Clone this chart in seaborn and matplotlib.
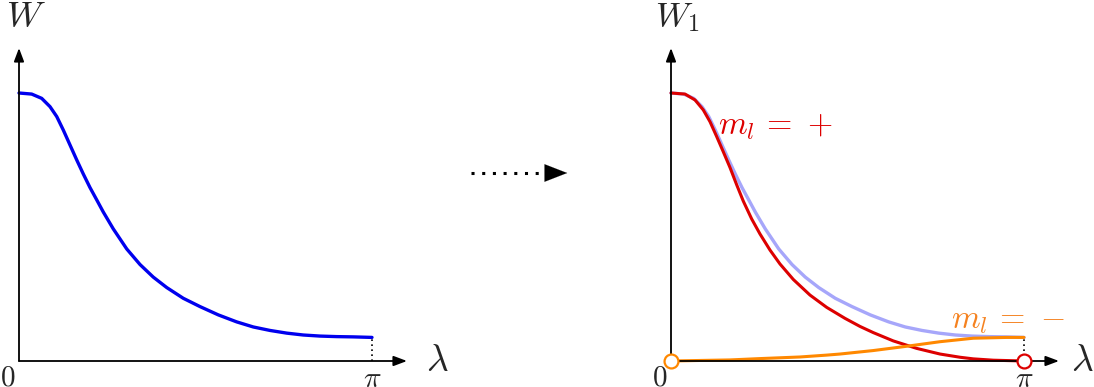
import numpy as np
import matplotlib
matplotlib.use("Agg")
import matplotlib.pyplot as plt
from matplotlib.patches import FancyArrowPatch
import seaborn as sns

sns.set_style("white")
plt.rcParams["mathtext.fontset"] = "cm"

# values (lambda in radians, W normalised so W(0)=1)
lam_w = [0.0, 0.113, 0.202, 0.276, 0.336, 0.394, 0.454, 0.514, 0.572, 0.632,
         0.692, 0.750, 0.839, 0.959, 1.077, 1.195, 1.315, 1.462, 1.611, 1.774,
         1.937, 2.085, 2.234, 2.383, 2.530, 2.679, 2.827, 2.975, 3.1416]
w_vals = [1.0, 0.996, 0.980, 0.949, 0.912, 0.862, 0.806, 0.750, 0.698, 0.647,
          0.601, 0.556, 0.493, 0.418, 0.360, 0.313, 0.274, 0.234, 0.203, 0.172,
          0.146, 0.127, 0.114, 0.104, 0.097, 0.093, 0.091, 0.090, 0.088]

lam_plus = [0.0, 0.125, 0.214, 0.287, 0.347, 0.407, 0.465, 0.525, 0.585, 0.643,
            0.718, 0.792, 0.881, 0.970, 1.089, 1.237, 1.386, 1.549, 1.682, 1.800,
            1.978, 2.187, 2.394, 2.572, 2.690, 2.868, 3.1416]
w_plus = [1.0, 0.996, 0.974, 0.937, 0.893, 0.837, 0.781, 0.722, 0.657, 0.597,
          0.530, 0.474, 0.414, 0.362, 0.304, 0.246, 0.200, 0.159, 0.129, 0.106,
          0.075, 0.047, 0.026, 0.014, 0.008, 0.003, 0.0]

lam_minus = [0.0, 0.258, 0.525, 0.792, 1.148, 1.386, 1.504, 1.800, 2.098, 2.394,
             2.690, 2.988, 3.1416]
w_minus = [0.0, 0.002, 0.004, 0.009, 0.015, 0.022, 0.026, 0.039, 0.055, 0.072,
           0.085, 0.088, 0.088]

FW, FH = 1094, 387
sx = 353 / np.pi   # px per radian
sy = 268.0         # px per unit W

fig = plt.figure(figsize=(FW / 100, FH / 100), dpi=100)


def make_ax(ox, lam_off):
    ax = fig.add_axes([(ox - 20) / FW, 0, 440 / FW, 1])
    ax.set_xlim(-20 / sx, 420 / sx)
    ax.set_ylim(-26 / sy, 361 / sy)
    ax.axis("off")
    arr = dict(arrowstyle="-|>,head_length=0.8,head_width=0.3", color="black",
               lw=1.3, shrinkA=0, shrinkB=0)
    ax.annotate("", xy=(388 / sx, 0), xytext=(0, 0), arrowprops=arr)
    ax.annotate("", xy=(0, 313 / sy), xytext=(0, 0), arrowprops=arr)
    ax.text(-11 / sx, -17 / sy, "$0$", fontsize=21, ha="center", va="center")
    ax.text(np.pi, -18 / sy, r"$\pi$", fontsize=21, ha="center", va="center")
    ax.text(lam_off / sx, 0, r"$\lambda$", fontsize=27, ha="center", va="center")
    ax.plot([np.pi, np.pi], [0, w_vals[-1]], ls=(0, (1, 2)), color="black", lw=1.2)
    return ax


# left panel
ax1 = make_ax(19, 418)
sns.lineplot(x=lam_w, y=w_vals, ax=ax1, color="#0000ee", lw=2.4, sort=False)
ax1.text(-13 / sx, 344 / sy, "$W$", fontsize=26, ha="left", va="center")

# right panel
ax2 = make_ax(671, 411)
sns.lineplot(x=lam_w, y=w_vals, ax=ax2, color="#a6a6fa", lw=2.4, sort=False)
sns.lineplot(x=lam_plus, y=w_plus, ax=ax2, color="#dd0000", lw=2.2, sort=False)
sns.lineplot(x=lam_minus, y=w_minus, ax=ax2, color="#ff8800", lw=2.2, sort=False)
ax2.plot([0], [0], "o", ms=10, mfc="white", mec="#ff8800", mew=1.6, clip_on=False, zorder=5)
ax2.plot([np.pi], [0], "o", ms=10, mfc="white", mec="#dd0000", mew=1.6, clip_on=False, zorder=5)
ax2.text(-16 / sx, 344 / sy, "$W_1$", fontsize=25, ha="left", va="center")
ax2.text(47 / sx, 235 / sy, r"$m_l\,=\,+$", fontsize=23.5, color="#dd0000", ha="left", va="center")
ax2.text(280 / sx, 42 / sy, r"$m_l\,=\,-$", fontsize=23.5, color="#f58220", ha="left", va="center")

# dotted arrow between panels
y_arr = 1 - 173 / FH
fig.add_artist(plt.Line2D([471 / FW, 546 / FW], [y_arr, y_arr], ls=(0, (1, 2.5)),
                          color="black", lw=2.2))
fig.add_artist(FancyArrowPatch((543 / FW, y_arr), (570 / FW, y_arr),
                               transform=fig.transFigure,
                               arrowstyle="-|>,head_length=0.9,head_width=0.35",
                               mutation_scale=18, color="black", lw=0.1))

fig.savefig("out.png", dpi=100)
